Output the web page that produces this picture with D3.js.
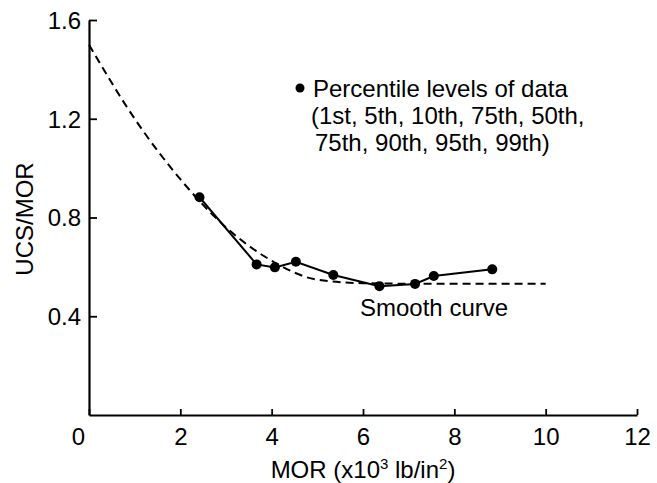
<!DOCTYPE html>
<html lang="en">
<head>
  <meta charset="UTF-8">
  <script src="https://d3js.org/d3.v7.min.js"></script>
  <title>UCS/MOR vs MOR</title>
  <style>
    body { margin: 0; background: #fff; }
    text { font-family: "Liberation Sans", Arial, sans-serif; fill: #000; }
  </style>
</head>
<body>
  <svg id="chart" width="657" height="483"></svg>
  <script>
    // percentile points (MOR in 10^3 lb/in2, UCS/MOR ratio)
    var pctMOR = [2.42, 3.67, 4.07, 4.53, 5.35, 6.36, 7.14, 7.55, 8.83];
    var pctRatio = [0.882, 0.61, 0.598, 0.621, 0.567, 0.522, 0.531, 0.563, 0.59];

    // smooth (dashed) curve
    var smoothMOR = [0, 1, 2, 3, 4, 5, 6, 7, 8, 9, 10];
    var smoothRatio = [1.5, 1.2, 0.955, 0.76, 0.625, 0.548, 0.534, 0.532, 0.532, 0.532, 0.532];

    var xTicks = [0, 2, 4, 6, 8, 10, 12];
    var yTicks = [0.4, 0.8, 1.2, 1.6];

    var legendLines = ["Percentile levels of data",
                       "(1st, 5th, 10th, 75th, 50th,",
                       "75th, 90th, 95th, 99th)"];

    var fs = 24;
    var svg = d3.select("#chart");
    var margin = {left: 89, right: 20, top: 20, bottom: 68};
    var width = +svg.attr("width"), height = +svg.attr("height");

    var x = d3.scaleLinear().domain([0, 12]).range([margin.left, width - margin.right]);
    var y = d3.scaleLinear().domain([0, 1.6]).range([height - margin.bottom, margin.top]);

    // axes
    var xAxis = svg.append("g")
      .attr("transform", "translate(0," + y(0) + ")")
      .call(d3.axisBottom(x).tickValues(xTicks).tickSizeInner(-6).tickSizeOuter(0).tickPadding(0).tickFormat(d3.format("d")));
    xAxis.select(".domain").attr("stroke-width", 2.2);
    xAxis.selectAll(".tick line").attr("stroke-width", 1.8);
    xAxis.selectAll(".tick text")
      .attr("font-size", fs)
      .attr("font-family", "Liberation Sans, Arial, sans-serif")
      .attr("y", 30)
      .attr("dy", 0)
      .attr("dx", function(d) { return d === 0 ? -11 : 0; });

    var yAxis = svg.append("g")
      .attr("transform", "translate(" + x(0) + ",0)")
      .call(d3.axisLeft(y).tickValues(yTicks).tickSizeInner(-8).tickSizeOuter(0).tickPadding(0).tickFormat(d3.format(".1f")));
    yAxis.select(".domain").attr("stroke-width", 2.2);
    yAxis.selectAll(".tick line").attr("stroke-width", 1.8);
    yAxis.selectAll(".tick text")
      .attr("font-size", fs)
      .attr("font-family", "Liberation Sans, Arial, sans-serif")
      .attr("x", -8)
      .attr("dy", "0.35em");

    // y axis title
    svg.append("text")
      .attr("transform", "translate(33,219) rotate(-90)")
      .attr("text-anchor", "middle")
      .attr("font-size", fs)
      .text("UCS/MOR");

    // x axis title with superscripts
    var xt = svg.append("text")
      .attr("x", x(6))
      .attr("y", 478)
      .attr("text-anchor", "middle")
      .attr("font-size", fs);
    xt.append("tspan").text("MOR (x10");
    xt.append("tspan").attr("font-size", 15).attr("dy", -9).text("3");
    xt.append("tspan").attr("dy", 9).text(" lb/in");
    xt.append("tspan").attr("font-size", 15).attr("dy", -9).text("2");
    xt.append("tspan").attr("dy", 9).text(")");

    // smooth dashed curve
    var smoothData = smoothMOR.map(function(d, i) { return [d, smoothRatio[i]]; });
    svg.append("path")
      .datum(smoothData)
      .attr("fill", "none")
      .attr("stroke", "#000")
      .attr("stroke-width", 2)
      .attr("stroke-dasharray", "8,5")
      .attr("d", d3.line()
        .x(function(d) { return x(d[0]); })
        .y(function(d) { return y(d[1]); })
        .curve(d3.curveMonotoneX));

    // percentile line and dots
    var pctData = pctMOR.map(function(d, i) { return [d, pctRatio[i]]; });
    svg.append("path")
      .datum(pctData)
      .attr("fill", "none")
      .attr("stroke", "#000")
      .attr("stroke-width", 2)
      .attr("d", d3.line()
        .x(function(d) { return x(d[0]); })
        .y(function(d) { return y(d[1]); }));

    svg.append("g")
      .selectAll("circle")
      .data(pctData)
      .enter()
      .append("circle")
        .attr("cx", function(d) { return x(d[0]); })
        .attr("cy", function(d) { return y(d[1]); })
        .attr("r", 5)
        .attr("fill", "#000");

    // curve label
    svg.append("text")
      .attr("x", 360)
      .attr("y", 316)
      .attr("font-size", fs)
      .text("Smooth curve");

    // legend
    svg.append("circle")
      .attr("cx", 300)
      .attr("cy", 88)
      .attr("r", 4.5)
      .attr("fill", "#000");
    var legendX = [313, 311, 315];
    svg.append("g")
      .selectAll("text")
      .data(legendLines)
      .enter()
      .append("text")
        .attr("x", function(d, i) { return legendX[i]; })
        .attr("y", function(d, i) { return 97 + i * 27; })
        .attr("font-size", fs)
        .text(function(d) { return d; });
  </script>
</body>
</html>
